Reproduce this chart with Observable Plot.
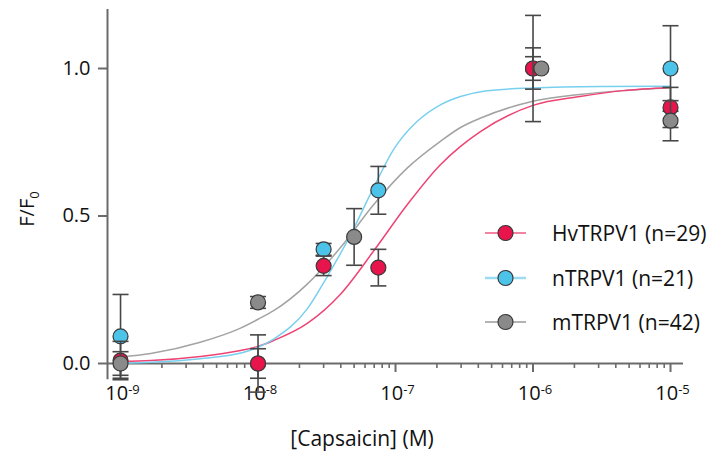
<!DOCTYPE html>
<html><head><meta charset="utf-8">
<script src="https://cdn.jsdelivr.net/npm/d3@7"></script>
<script src="https://cdn.jsdelivr.net/npm/@observablehq/plot@0.6"></script>
<style>
body{margin:0;background:#fff;}
#chart svg{display:block;}
</style></head><body><div id="chart"></div>
<script>
// ---- series labels
const seriesNames = ["HvTRPV1 (n=29)", "nTRPV1 (n=21)", "mTRPV1 (n=42)"];

// ---- measured points (mean ± SEM)
const hvConc = [1e-9, 1e-8, 3e-8, 7.5e-8, 1e-6, 1e-5];
const hvMean = [0.01, 0.0, 0.331, 0.325, 1.0, 0.868];
const hvSem  = [0.065, 0.05, 0.033, 0.062, 0.07, 0.068];

const nConc = [1e-9, 1e-8, 3e-8, 7.5e-8, 1e-6, 1e-5];
const nMean = [0.092, 0.0, 0.387, 0.587, 1.0, 1.0];
const nSem  = [0.142, 0.097, 0.02, 0.081, 0.18, 0.145];

const mConc    = [1e-9, 1e-8, 5e-8, 1.15e-6, 1e-5];
const mBarConc = [1e-9, 1e-8, 5e-8, 1e-6, 1e-5];
const mMean = [0.0, 0.207, 0.429, 1.0, 0.823];
const mSem  = [0.04, 0.02, 0.096, 0.04, 0.068];

// ---- fitted curves
const hvCurveConc = [1e-9, 1.66e-9, 3.8e-9, 7.46e-9, 1e-8, 1.3e-8, 2.28e-8, 3.98e-8, 6.95e-8, 1.22e-7, 2.12e-7, 2.97e-7, 4.17e-7, 1e-6, 2.2e-6, 4.5e-6, 1e-5];
const hvCurveY    = [0.007, 0.010, 0.024, 0.044, 0.058, 0.078, 0.136, 0.235, 0.382, 0.539, 0.674, 0.736, 0.787, 0.875, 0.905, 0.925, 0.936];

const nCurveConc = [1e-9, 1.66e-9, 3.8e-9, 7.9e-9, 1e-8, 1.3e-8, 2.28e-8, 3.18e-8, 4.7e-8, 6.95e-8, 9.7e-8, 1.44e-7, 2.12e-7, 2.97e-7, 4.5e-7, 1e-6, 3.1e-6, 1e-5];
const nCurveY    = [0.001, 0.004, 0.016, 0.038, 0.055, 0.083, 0.185, 0.294, 0.435, 0.598, 0.726, 0.821, 0.877, 0.905, 0.924, 0.934, 0.939, 0.94];

const mCurveConc = [1e-9, 1.66e-9, 3.8e-9, 7.46e-9, 1e-8, 1.3e-8, 2.28e-8, 3.98e-8, 6.95e-8, 1.22e-7, 2.12e-7, 2.97e-7, 4.17e-7, 1e-6, 2.2e-6, 4.5e-6, 1e-5];
const mCurveY    = [0.022, 0.034, 0.072, 0.12, 0.150, 0.179, 0.269, 0.393, 0.539, 0.663, 0.753, 0.800, 0.832, 0.889, 0.912, 0.925, 0.935];

// ---- axes
const xDomain = [8.04e-10, 1.243e-5];
const yDomain = [0, 1.2];
const yAxisBottom = -0.055;
const xMajorTicks = [1e-9, 1e-8, 1e-7, 1e-6, 1e-5];
const xMinorTicks = [];
for (const d of [1e-9, 1e-8, 1e-7, 1e-6]) for (let k = 2; k <= 9; k++) xMinorTicks.push(d * k);
const yTicks = [0, 0.5, 1.0];
const xLabel = "[Capsaicin] (M)";

// ---- styles
const font = "'Open Sans', sans-serif";
const axisColor = "#6b6b6b";
const textColor = "#111";
const barColor = "#474747";
const dotStroke = "#3a3a3a";
const fills = ["#e8154d", "#4cc3e9", "#8a8a8a"];
const lines = ["#ee4474", "#78d0ee", "#a3a3a3"];
const legendLines = ["#ef5a84", "#9bdcf1", "#9a9a9a"];

const pts = (c, m) => c.map((x, i) => ({x, y: m[i]}));
const bars = (c, m, s) => c.map((x, i) => ({x, lo: m[i] - s[i], hi: m[i] + s[i]}));
const hvPts = pts(hvConc, hvMean), nPts = pts(nConc, nMean), mPts = pts(mConc, mMean);
const hvBars = bars(hvConc, hvMean, hvSem), nBars = bars(nConc, nMean, nSem), mBars = bars(mBarConc, mMean, mSem);

const capSymbol = {draw(ctx, size) { const w = Math.sqrt(size / Math.PI); ctx.moveTo(-w, 0); ctx.lineTo(w, 0); }};

function errMarks(b, color) {
  return [
    Plot.ruleX(b, {x: "x", y1: "lo", y2: "hi", stroke: color, strokeWidth: 1.6}),
    Plot.dot(b, {x: "x", y: "hi", symbol: capSymbol, r: 8, stroke: color, strokeWidth: 1.6, fill: "none"}),
    Plot.dot(b, {x: "x", y: "lo", symbol: capSymbol, r: 8, stroke: color, strokeWidth: 1.6, fill: "none"})
  ];
}
function dotMark(p, fill) {
  return Plot.dot(p, {x: "x", y: "y", r: 7.5, fill, stroke: dotStroke, strokeWidth: 1.2});
}

const svg = Plot.plot({
  width: 714, height: 458,
  marginLeft: 107, marginRight: 31, marginTop: 9, marginBottom: 95,
  style: {fontFamily: font, background: "#fff", overflow: "visible"},
  x: {type: "log", domain: xDomain},
  y: {domain: yDomain},
  marks: [
    Plot.axisY({ticks: yTicks, tickSize: 9, tickPadding: 8, tickFormat: d3.format(".1f"), fontSize: 20, stroke: axisColor, strokeWidth: 2, fill: textColor, label: null}),
    Plot.axisX({ticks: xMinorTicks, tickSize: 5, tickFormat: () => "", stroke: axisColor, strokeWidth: 1.6, label: null}),
    Plot.axisX({ticks: xMajorTicks, tickSize: 9, tickPadding: 13, tickFormat: d => "10^" + Math.round(Math.log10(d)), fontSize: 20, stroke: axisColor, strokeWidth: 2, fill: textColor, label: null}),
    Plot.ruleY([0], {stroke: axisColor, strokeWidth: 2}),
    Plot.ruleX([{x: xDomain[0], y1: yAxisBottom, y2: yDomain[1]}], {x: "x", y1: "y1", y2: "y2", stroke: axisColor, strokeWidth: 2}),
    Plot.line(pts(mCurveConc, mCurveY), {x: "x", y: "y", stroke: lines[2], strokeWidth: 1.5, curve: "monotone-x"}),
    Plot.line(pts(hvCurveConc, hvCurveY), {x: "x", y: "y", stroke: lines[0], strokeWidth: 1.5, curve: "monotone-x"}),
    Plot.line(pts(nCurveConc, nCurveY), {x: "x", y: "y", stroke: lines[1], strokeWidth: 1.5, curve: "monotone-x"}),
    ...errMarks(nBars, barColor), dotMark(nPts, fills[1]),
    ...errMarks(hvBars, barColor), dotMark(hvPts, fills[0]),
    ...errMarks(mBars, barColor), dotMark(mPts, fills[2])
  ]
});

const s = d3.select(svg);
// superscript exponents on x tick labels
s.selectAll('g[aria-label="x-axis tick label"] text').each(function() {
  const t = d3.select(this);
  const txt = t.text();
  if (!txt.includes("^")) return;
  const [base, exp] = txt.split("^");
  t.text("").attr("dx", 2);
  t.append("tspan").text(base);
  t.append("tspan").attr("font-size", 13).attr("dy", -6).text(exp);
});
// y axis title
const yt = s.append("text").attr("transform", "translate(34,209) rotate(-90)")
  .attr("text-anchor", "middle").attr("font-size", 20).attr("fill", textColor).attr("font-family", font);
yt.append("tspan").text("F/F");
yt.append("tspan").attr("font-size", 13).attr("dy", 5).text("0");
// x axis title
s.append("text").attr("x", 362).attr("y", 446).attr("text-anchor", "middle")
  .attr("font-size", 21).attr("fill", textColor).attr("font-family", font).text(xLabel);
// legend
const lg = s.append("g").attr("font-family", font).attr("font-size", 21).attr("fill", textColor).attr("text-anchor", "start");
const legendY = [233, 278, 322];
seriesNames.forEach((name, i) => {
  const y = legendY[i];
  lg.append("line").attr("x1", 485).attr("x2", 526).attr("y1", y).attr("y2", y)
    .attr("stroke", legendLines[i]).attr("stroke-width", i === 1 ? 2.5 : 1.6);
  lg.append("circle").attr("cx", 505.5).attr("cy", y).attr("r", 7.5)
    .attr("fill", fills[i]).attr("stroke", dotStroke).attr("stroke-width", 1.2);
  lg.append("text").attr("x", 552).attr("y", y).attr("dy", "0.36em").attr("text-anchor", "start").text(name);
});
document.getElementById("chart").appendChild(svg);
</script>
</body></html>
